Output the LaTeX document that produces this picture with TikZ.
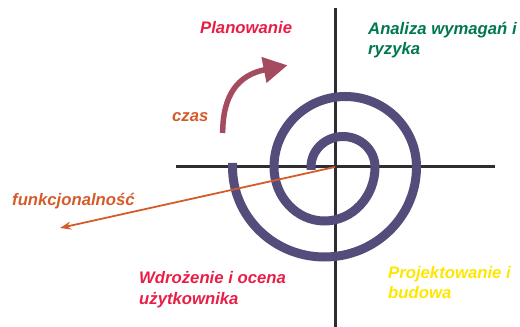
\documentclass[tikz,border=0pt]{standalone}
\usepackage{fontspec}
\setmainfont{Liberation Sans}
\usetikzlibrary{arrows.meta}
\definecolor{spiralc}{RGB}{84,76,122}
\definecolor{axisc}{RGB}{45,45,50}
\definecolor{orangec}{RGB}{212,92,42}
\definecolor{maroonc}{RGB}{165,75,95}
\definecolor{redc}{RGB}{232,30,70}
\definecolor{greenc}{RGB}{0,120,75}
\definecolor{yellowc}{RGB}{255,230,0}
\tikzset{
  lbl/.style={font=\fontsize{16.7}{20.5}\selectfont\bfseries\itshape, inner sep=0pt, anchor=base west, align=left},
  axisline/.style={draw=axisc, line width=3pt},
  spiralline/.style={draw=spiralc, line width=9pt},
}
\begin{document}
\begin{tikzpicture}[x=1pt,y=1pt]
\useasboundingbox (0,0) rectangle (520,327);
% axes
\coordinate (vtop) at (335,319);
\coordinate (vbot) at (335,0);
\coordinate (hl) at (176,160);
\coordinate (hr) at (495,160);
\coordinate (O) at (335,160);
\draw[axisline] (vtop) -- (vbot);
\draw[axisline] (hl) -- (hr);
% spiral
\coordinate (s0) at (311,157);
\draw[spiralline] (s0) -- (311,160)
  arc[start angle=180, end angle=0, x radius=32, y radius=30.5]
  arc[start angle=0, end angle=-180, x radius=50.5, y radius=54]
  arc[start angle=180, end angle=0, x radius=71.25, y radius=70.5]
  arc[start angle=0, end angle=-180, x radius=92, y radius=90]
  -- ++(0,4);
% functionality arrow
\coordinate (F) at (60,99);
\draw[orangec, line width=1.8pt, -{Stealth[length=11pt,width=8pt]}] (O) -- (F);
% time arrow
\coordinate (t0) at (222.7,194);
\coordinate (t1) at (287.5,261.7);
\draw[maroonc, line width=5.5pt, -{Triangle[length=24pt,width=25pt]}] (t0) .. controls (222.7,232) and (238,252) .. (t1);
% labels
\node[lbl, text=redc] (plan) at (200,293) {Planowanie};
\node[lbl, text=greenc] (anal) at (368,272) {Analiza wymagań i\\ryzyka};
\node[lbl, text=orangec] (czas) at (172,205) {czas};
\node[lbl, text=orangec] (funk) at (12,121) {funkcjonalność};
\node[lbl, text=redc] (wdr) at (139,23) {Wdrożenie i ocena\\użytkownika};
\node[lbl, text=yellowc] (proj) at (388,28) {Projektowanie i\\budowa};
\end{tikzpicture}
\end{document}
